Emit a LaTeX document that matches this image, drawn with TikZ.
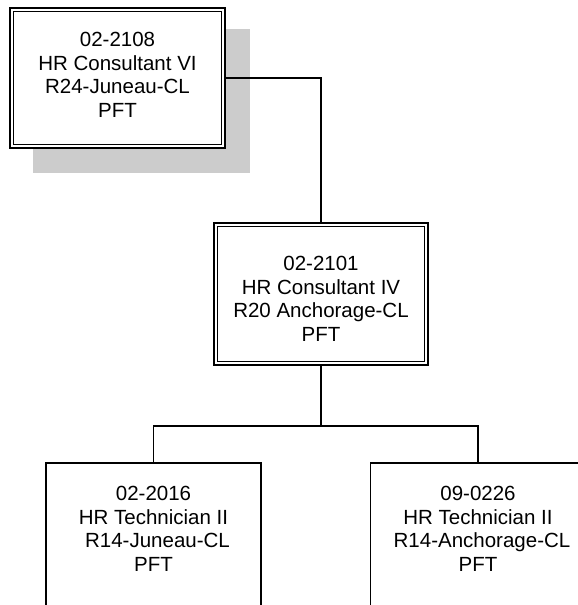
\documentclass[tikz,border=0pt]{standalone}
\usepackage{fontspec}
\setmainfont{Liberation Sans}
\usetikzlibrary{backgrounds}
\definecolor{shadowgray}{RGB}{204,204,204}
\begin{document}
\begin{tikzpicture}[x=1pt,y=-1pt,
  dbox/.style={draw=black, line width=1.6pt, double=white, double distance=2.2pt, fill=white, inner sep=0pt, outer sep=0pt},
  sbox/.style={draw=black, line width=1.8pt, fill=white, inner sep=0pt, outer sep=0pt},
  txt/.style={align=center, inner sep=0pt, font=\fontsize{20.5}{23.5}\selectfont},
  link/.style={draw=black, line width=1.8pt}]
\useasboundingbox (0,0) rectangle (578,605);
\clip (0,0) rectangle (578,605);
% boxes
\node[dbox, minimum width=211.6pt, minimum height=136.6pt] (top) at (117.5,78) {};
\node[dbox, minimum width=210.6pt, minimum height=138.6pt] (mid) at (321,294) {};
\node[sbox, minimum width=215pt, minimum height=197pt] (c1) at (153.5,561.5) {};
\node[sbox, minimum width=215pt, minimum height=197pt] (c2) at (478,561.5) {};
% texts
\node[txt] (topt) at (117.5,75) {02-2108\\HR Consultant VI\\R24-Juneau-CL\\PFT};
\node[txt] (midt) at (321,299) {02-2101\\HR Consultant IV\\R20 Anchorage-CL\\PFT};
\node[txt] (c1t) at (153.5,529) {02-2016\\HR Technician II\\\hspace*{8pt}R14-Juneau-CL\\PFT};
\node[txt] (c2t) at (478,529) {09-0226\\HR Technician II\\\hspace*{8pt}R14-Anchorage-CL\\PFT};
\coordinate (bus) at (321,426);
\begin{pgfonlayer}{background}
\fill[shadowgray] (33,29) rectangle (250,173);
\draw[link] (top.east) -| (mid.north);
\draw[link] (mid.south) -- (mid.south |- bus);
\draw[link] (c1.north) -- (c1.north |- bus) -- (c2.north |- bus) -- (c2.north);
\end{pgfonlayer}
\end{tikzpicture}
\end{document}
